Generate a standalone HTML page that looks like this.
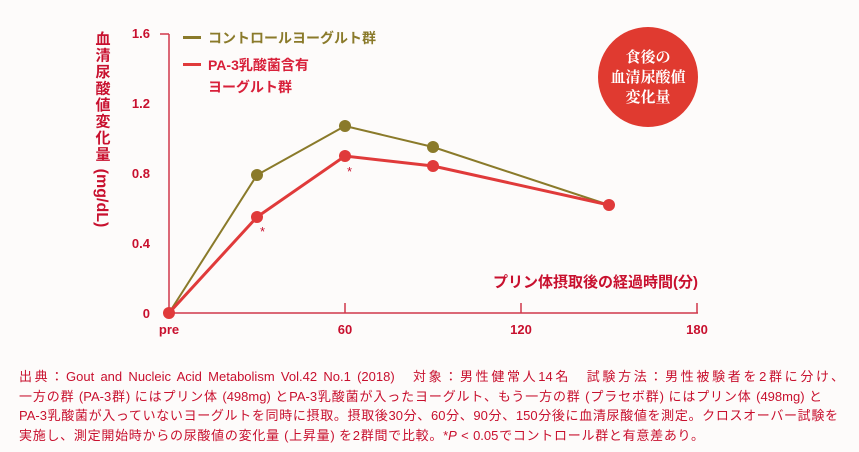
<!DOCTYPE html>
<html><head><meta charset="utf-8"><style>
body{margin:0;background:#fdfbfa;width:859px;height:452px;overflow:hidden;font-family:"Liberation Sans","Noto Sans CJK JP",sans-serif}
.n{position:absolute;color:#c8102e;font-size:13px;line-height:19.5px;left:19px;top:367px}
.n div{white-space:nowrap;text-align:justify;text-align-last:justify;text-justify:inter-character}
</style></head><body>
<svg width="859" height="452" style="position:absolute;left:0;top:0" font-family="Liberation Sans, Noto Sans CJK JP, sans-serif">
<g fill="#c8102e" font-weight="bold" font-size="13">
<text x="150" y="38" text-anchor="end">1.6</text>
<text x="150" y="108" text-anchor="end">1.2</text>
<text x="150" y="178" text-anchor="end">0.8</text>
<text x="150" y="248" text-anchor="end">0.4</text>
<text x="150" y="318" text-anchor="end">0</text>
<text x="169" y="334" text-anchor="middle">pre</text>
<text x="345" y="334" text-anchor="middle">60</text>
<text x="521" y="334" text-anchor="middle">120</text>
<text x="697" y="334" text-anchor="middle">180</text>
</g>
<g fill="#c8102e" font-weight="bold" font-size="15" text-anchor="middle">
<text x="103" y="44">血</text><text x="103" y="60.5">清</text><text x="103" y="77">尿</text><text x="103" y="93.5">酸</text><text x="103" y="110">値</text><text x="103" y="126.5">変</text><text x="103" y="143">化</text><text x="103" y="159.5">量</text>
<text transform="translate(97,198) rotate(90)" font-size="16" text-anchor="middle">(mg/dL)</text>
</g>
<g stroke="#d0384a" stroke-width="1.5" fill="none">
<path d="M169,34 V313 H698"/>
<path d="M160,34 H169"/>
<path d="M345,303 V313 M521,303 V313 M697,303 V313"/>
</g>
<polyline points="169,313 257,175 345,126 433,147 609,205" fill="none" stroke="#8a7a2a" stroke-width="2"/>
<polyline points="169,313 257,217 345,156 433,166 609,205" fill="none" stroke="#e03a3a" stroke-width="3"/>
<g fill="#8a7a2a"><circle cx="257" cy="175" r="6"/><circle cx="345" cy="126" r="6"/><circle cx="433" cy="147" r="6"/></g>
<g fill="#e03a3a"><circle cx="169" cy="313" r="6"/><circle cx="257" cy="217" r="6"/><circle cx="345" cy="156" r="6"/><circle cx="433" cy="166" r="6"/><circle cx="609" cy="205" r="6"/></g>
<g fill="#c8102e" font-size="13"><text x="260" y="236">*</text><text x="347" y="176">*</text></g>
<rect x="183" y="36" width="18" height="3" fill="#8a7a2a"/>
<rect x="183" y="63" width="18" height="3" fill="#e03a3a"/>
<g font-weight="bold" font-size="14">
<text x="208" y="43" fill="#8a7a2a">コントロールヨーグルト群</text>
<text x="208" y="70" fill="#d8203a">PA-3乳酸菌含有</text>
<text x="208" y="92" fill="#d8203a">ヨーグルト群</text>
<text x="698" y="287" fill="#c8102e" text-anchor="end" font-size="15">プリン体摂取後の経過時間(分)</text>
</g>
<circle cx="648" cy="77" r="50" fill="#e03a30"/>
<g fill="#fff" font-size="15" font-weight="bold" text-anchor="middle" font-family="Noto Serif CJK SC, serif">
<text x="648" y="62">食後の</text><text x="648" y="82">血清尿酸値</text><text x="648" y="102">変化量</text>
</g>
</svg>
<div class="n">
<div style="width:825px">出典：Gout and Nucleic Acid Metabolism Vol.42 No.1 (2018)　対象：男性健常人14名　試験方法：男性被験者を2群に分け、</div>
<div style="width:803px">一方の群 (PA-3群) にはプリン体 (498mg) とPA-3乳酸菌が入ったヨーグルト、もう一方の群 (プラセボ群) にはプリン体 (498mg) と</div>
<div style="width:819px">PA-3乳酸菌が入っていないヨーグルトを同時に摂取。摂取後30分、60分、90分、150分後に血清尿酸値を測定。クロスオーバー試験を</div>
<div style="width:685px">実施し、測定開始時からの尿酸値の変化量 (上昇量) を2群間で比較。*<i>P</i> &lt; 0.05でコントロール群と有意差あり。</div>
</div>
</body></html>
